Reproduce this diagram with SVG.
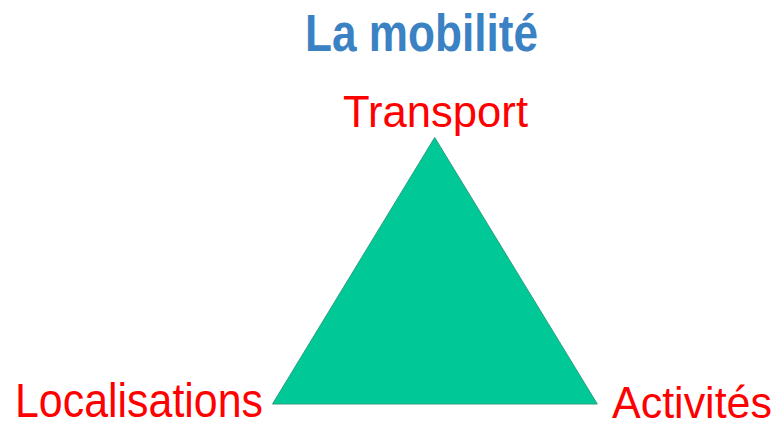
<svg xmlns="http://www.w3.org/2000/svg" width="779" height="427" viewBox="0 0 779 427">
<style>
.lbl{font-family:"Liberation Sans",Arial,sans-serif;fill:#ff0000;font-size:44px}
.title{font-family:"Liberation Sans",Arial,sans-serif;fill:#3a82c4;font-size:44px;font-weight:bold}
</style>
<rect width="779" height="427" fill="#ffffff"/>
<g id="title"><text class="title" transform="translate(305,51) scale(1,1.17)" x="0" y="0" textLength="233" lengthAdjust="spacingAndGlyphs">La mobilité</text></g>
<g id="triangle"><polygon points="434.7,137.5 272.5,404 597.3,404" fill="#00c896" stroke="#2aa07f" stroke-width="1"/></g>
<g id="transport"><text class="lbl" x="343" y="127" textLength="185" lengthAdjust="spacingAndGlyphs">Transport</text></g>
<g id="localisations"><text class="lbl" transform="translate(15,417) scale(1,1.08)" x="0" y="0" textLength="248" lengthAdjust="spacingAndGlyphs">Localisations</text></g>
<g id="activites"><text class="lbl" x="612" y="418" textLength="160" lengthAdjust="spacingAndGlyphs">Activités</text></g>
<g id="connectors"></g>
</svg>
